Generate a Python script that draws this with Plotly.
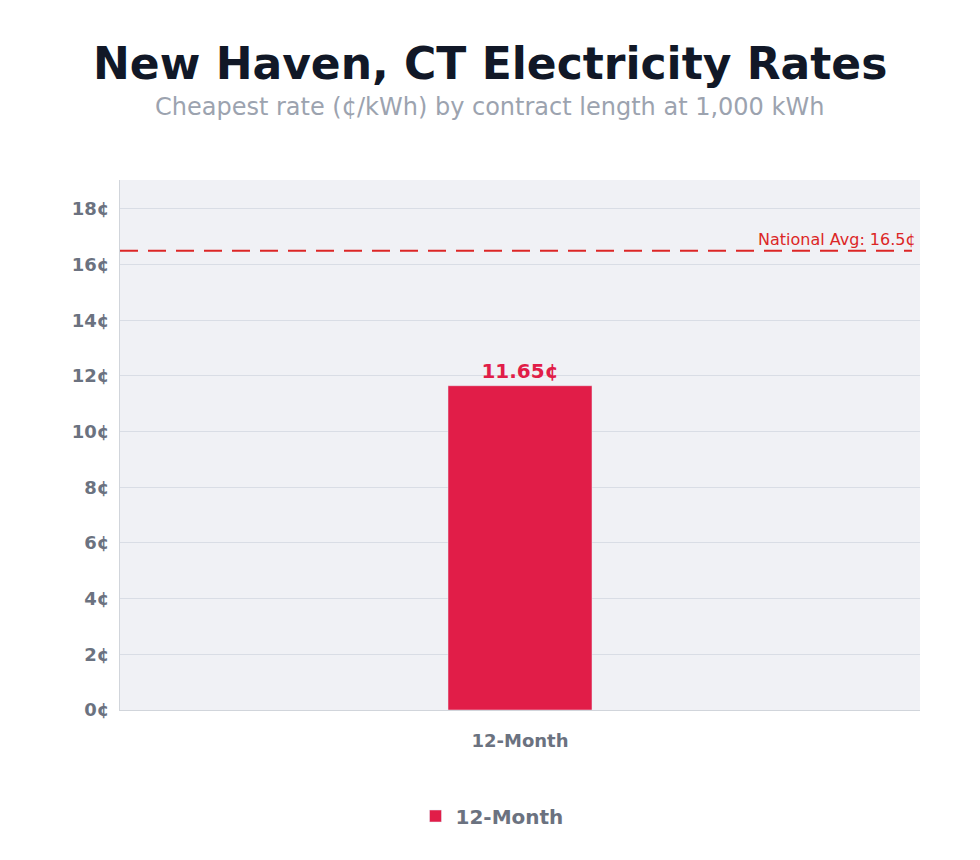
import plotly.graph_objects as go

categories = ["12-Month"]
rates = [11.65]
national_avg = 16.5
tick_vals = [0, 2, 4, 6, 8, 10, 12, 14, 16, 18]
tick_text = [f"{v}¢" for v in tick_vals]

FONT = "DejaVu Sans"
fig = go.Figure()
fig.add_trace(go.Bar(
    x=categories, y=rates, name="12-Month",
    marker=dict(color="#e11d48"),
    width=0.18,
    text=[f"{v:.2f}¢" for v in rates],
    textposition="outside",
    textfont=dict(family=FONT, size=20, color="#e11d48", weight="bold"),
    cliponaxis=False,
    showlegend=True,
))
fig.add_shape(type="line", xref="paper", yref="y", x0=0, x1=0.99,
              y0=national_avg, y1=national_avg,
              line=dict(color="#dc2626", width=2, dash="18px,10px"))
fig.add_annotation(xref="paper", yref="y", x=0.998, y=national_avg,
                   text=f"National Avg: {national_avg}¢", showarrow=False,
                   xanchor="right", yanchor="bottom", yshift=0,
                   font=dict(family=FONT, size=16, color="#dc2626"))
fig.add_annotation(xref="paper", yref="paper", x=0.462, y=1.0, yshift=117,
                   text="<b>New Haven, CT Electricity Rates</b>", showarrow=False,
                   xanchor="center", yanchor="middle",
                   font=dict(family=FONT, size=44, color="#111827"))
fig.add_annotation(xref="paper", yref="paper", x=0.462, y=1.0, yshift=73,
                   text="Cheapest rate (¢/kWh) by contract length at 1,000 kWh", showarrow=False,
                   xanchor="center", yanchor="middle",
                   font=dict(family=FONT, size=24, color="#9ca3af"))
fig.update_layout(
    width=980, height=860,
    paper_bgcolor="white", plot_bgcolor="#f0f1f5",
    margin=dict(l=112, r=68, t=172, b=158),
    xaxis=dict(showgrid=False, showline=True, linecolor="#d1d5db", linewidth=1,
               tickfont=dict(family=FONT, size=18, color="#6b7280", weight="bold"),
               ticks="", range=[-0.5, 0.5], ticklabelstandoff=14),
    yaxis=dict(range=[0, 19.04], tickvals=tick_vals, ticktext=tick_text,
               showgrid=True, gridcolor="#d9dde5", gridwidth=1,
               showline=True, linecolor="#d1d5db", linewidth=1,
               zeroline=False, ticks="", ticklabelstandoff=6,
               tickfont=dict(family=FONT, size=18, color="#6b7280", weight="bold")),
    legend=dict(orientation="h", x=0.465, xanchor="center", y=-0.2, yanchor="middle",
                font=dict(family=FONT, size=20, color="#6b7280", weight="bold")),
)
fig.write_html("out.html")
